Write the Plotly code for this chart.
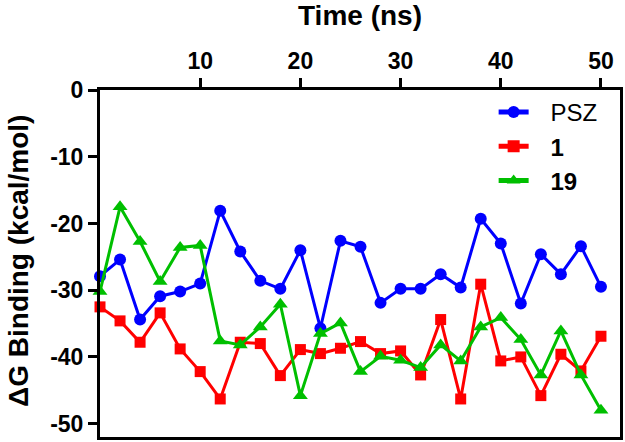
import plotly.graph_objects as go

time_ns = [0, 2, 4, 6, 8, 10, 12, 14, 16, 18, 20, 22, 24, 26, 28, 30, 32, 34, 36, 38, 40, 42, 44, 46, 48, 50]
psz = [-27.9, -25.4, -34.4, -30.9, -30.2, -29.0, -18.1, -24.2, -28.6, -29.8, -24.0, -35.7, -22.6, -23.5,
       -31.9, -29.8, -29.8, -27.6, -29.6, -19.3, -23.0, -32.0, -24.6, -27.6, -23.4, -29.5]
cmp1 = [-32.5, -34.6, -37.8, -33.4, -38.8, -42.2, -46.3, -37.8, -38.0, -42.8, -38.9, -39.5, -38.7, -37.7,
        -39.5, -39.1, -42.7, -34.4, -46.3, -29.1, -40.6, -40.0, -45.8, -39.6, -42.1, -36.9]
cmp19 = [-30.2, -17.5, -22.7, -28.7, -23.6, -23.3, -37.6, -38.2, -35.5, -32.1, -45.8, -36.5, -34.9, -42.2,
         -39.9, -40.5, -41.6, -38.2, -40.6, -35.5, -34.1, -37.4, -42.7, -36.1, -42.7, -48.0]

x_ticks = [10, 20, 30, 40, 50]
y_ticks = [0, -10, -20, -30, -40, -50]
y_tick_text = ["0", "-10", "-20", "-30", "-40", "-50"]
series_names = ["PSZ", "<b>1</b>", "<b>19</b>"]
y_title = "ΔG Binding (kcal/mol)"

FONT = "Arial, Liberation Sans, sans-serif"
GAP = "\u2002\u2009"

fig = go.Figure()
styles = [
    ("#0000FF", "circle", 12),
    ("#FF0000", "square", 11),
    ("#00BF00", "triangle-up", 13),
]
for name, vals, (color, sym, size) in zip(series_names, [psz, cmp1, cmp19], styles):
    fig.add_trace(go.Scatter(
        x=time_ns, y=vals, name=GAP + name, mode="lines+markers",
        line=dict(color=color, width=3),
        marker=dict(color=color, symbol=sym, size=size),
        cliponaxis=False,
    ))

fig.add_annotation(
    text=y_title, textangle=-90, showarrow=False,
    xref="paper", yref="paper", x=-0.158, y=0.507,
    xanchor="center", yanchor="middle",
    font=dict(size=28, family=FONT, weight="bold", color="black"),
)

fig.update_layout(
    width=625, height=442,
    margin=dict(l=100, r=5, t=90, b=5),
    plot_bgcolor="white", paper_bgcolor="white",
    font=dict(family=FONT, color="black"),
    showlegend=True,
    legend=dict(
        x=0.757, y=1.0, xanchor="left", yanchor="top",
        bgcolor="rgba(0,0,0,0)", font=dict(size=24, family=FONT),
        tracegroupgap=0, itemsizing="constant",
    ),
    xaxis=dict(
        side="top", range=[0, 51.9], tickvals=x_ticks,
        ticks="outside", ticklen=9, tickwidth=3, tickcolor="black",
        showline=True, linewidth=3, linecolor="black", mirror=True,
        showgrid=False, zeroline=False, automargin=False,
        tickfont=dict(size=23, family=FONT, weight="bold"),
        title=dict(text="Time (ns)", font=dict(size=28, family=FONT, weight="bold"), standoff=14),
    ),
    yaxis=dict(
        range=[-52, 0], tickvals=y_ticks, ticktext=y_tick_text,
        ticks="outside", ticklen=9, tickwidth=3, tickcolor="black",
        showline=True, linewidth=3, linecolor="black", mirror=True,
        showgrid=False, zeroline=False, automargin=False,
        tickfont=dict(size=23, family=FONT, weight="bold"),
    ),
)

fig.write_html("out.html", config={"displayModeBar": False},
               post_script="document.body.style.margin='0px';")
